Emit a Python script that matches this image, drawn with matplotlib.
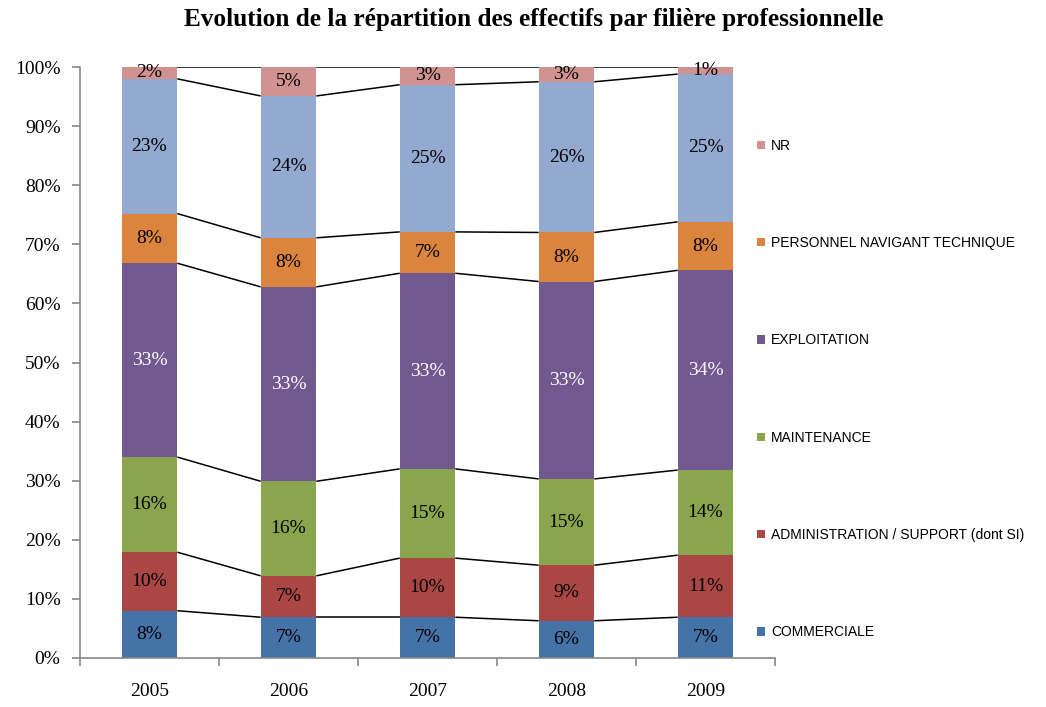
#!/usr/bin/env python3
"""Evolution de la répartition des effectifs par filière professionnelle (100% stacked bars)."""
import matplotlib
matplotlib.use("Agg")
import matplotlib.pyplot as plt
from matplotlib.patches import Patch
import numpy as np

years = ["2005", "2006", "2007", "2008", "2009"]
series = ["COMMERCIALE", "ADMINISTRATION / SUPPORT (dont SI)", "MAINTENANCE",
          "EXPLOITATION", "PERSONNEL NAVIGANT TECHNIQUE", "", "NR"]

commerciale = [8.0, 6.9, 6.9, 6.3, 6.9]
administration = [9.9, 7.0, 10.0, 9.4, 10.5]
maintenance = [16.1, 16.0, 15.1, 14.6, 14.4]
exploitation = [32.8, 32.9, 33.1, 33.4, 33.8]
pnt = [8.4, 8.3, 7.0, 8.3, 8.2]
autres = [22.8, 24.0, 24.9, 25.5, 25.0]   # light-blue series, not in legend
nr = [2.0, 4.9, 3.0, 2.5, 1.2]

colors = ["#4572A7", "#AA4643", "#89A54E", "#71588F", "#DB843D", "#93A9CF", "#D19392"]
label_colors = ["black", "black", "black", "white", "black", "black", "black"]

raw = np.array([commerciale, administration, maintenance, exploitation, pnt, autres, nr])
data = raw / raw.sum(axis=0) * 100.0

serif = ["Liberation Serif", "DejaVu Serif"]
sans = ["Liberation Sans", "DejaVu Sans"]

fig = plt.figure(figsize=(10.46, 7.07), dpi=100)
ax = fig.add_axes([80 / 1046, 49 / 707, 695 / 1046, 591 / 707])

x = np.arange(len(years))
w = 0.4
bottom = np.zeros(len(years))
cum = []
for k in range(len(data)):
    ax.bar(x, data[k], w, bottom=bottom, color=colors[k], linewidth=0, zorder=2)
    for i in range(len(years)):
        v = raw[k][i]
        ax.text(x[i], bottom[i] + data[k][i] / 2, f"{int(v + 0.5)}%",
                ha="center", va="center", fontsize=14, family=serif,
                color=label_colors[k], zorder=3)
    bottom = bottom + data[k]
    cum.append(bottom.copy())

# series lines between bars
for c in cum:
    for i in range(len(years) - 1):
        ax.plot([x[i] + w / 2, x[i + 1] - w / 2], [c[i], c[i + 1]],
                color="black", lw=1.1, zorder=1, solid_capstyle="butt")

ax.set_xlim(-0.5, len(years) - 0.5)
ax.set_ylim(0, 100)
ax.set_yticks(np.arange(0, 101, 10))
ax.set_yticklabels([f"{v}%" for v in range(0, 101, 10)], family=serif, fontsize=14)
ax.set_xticks(np.arange(-0.5, len(years), 1.0))
ax.set_xticklabels([])
ax.set_xticks(x, minor=True)
ax.set_xticklabels(years, minor=True, family=serif, fontsize=14)
ax.tick_params(axis="x", which="minor", length=0, pad=18)
ax.tick_params(axis="x", which="major", length=6, color="#888888", width=1.2)
ax.tick_params(axis="y", length=6, color="#888888", width=1.2, pad=8)
for s in ["top", "right"]:
    ax.spines[s].set_visible(False)
for s in ["left", "bottom"]:
    ax.spines[s].set_color("#888888")
    ax.spines[s].set_linewidth(1.2)

fig.suptitle("Evolution de la répartition des effectifs par filière professionnelle",
             x=534 / 1046, y=1 - 8 / 707, va="top", family=serif,
             fontsize=18.2, fontweight="bold")

handles = [Patch(facecolor=colors[k], edgecolor="none") for k in [6, 4, 3, 2, 1, 0]]
labels = [series[k] for k in [6, 4, 3, 2, 1, 0]]
fig.legend(handles, labels, loc="center left", bbox_to_anchor=(757 / 1046, 1 - 389 / 707),
           frameon=False, prop={"family": sans, "size": 10}, handlelength=0.55,
           handleheight=0.55, handletextpad=0.45, labelspacing=6.0, borderpad=0,
           borderaxespad=0)

fig.savefig("out.png", dpi=100)
